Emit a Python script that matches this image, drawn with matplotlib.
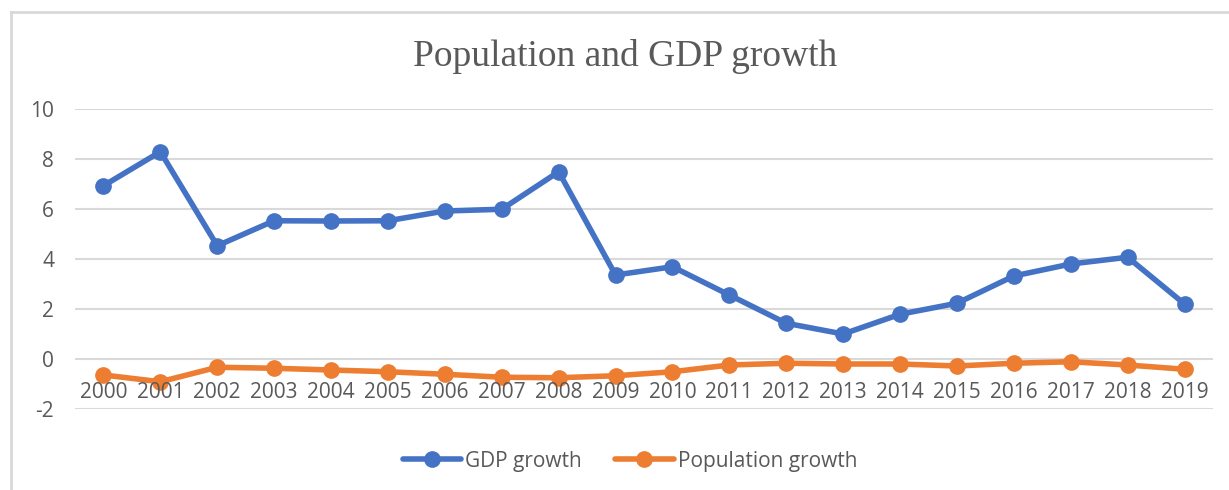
import matplotlib
matplotlib.use("Agg")
import matplotlib.pyplot as plt
from matplotlib.lines import Line2D
from matplotlib.transforms import ScaledTranslation

years = ["2000", "2001", "2002", "2003", "2004", "2005", "2006", "2007", "2008", "2009",
         "2010", "2011", "2012", "2013", "2014", "2015", "2016", "2017", "2018", "2019"]
gdp_growth = [6.93, 8.29, 4.53, 5.53, 5.52, 5.53, 5.92, 5.99, 7.49, 3.36,
              3.69, 2.56, 1.43, 1.00, 1.79, 2.23, 3.32, 3.80, 4.07, 2.20]
pop_growth = [-0.64, -0.91, -0.33, -0.37, -0.44, -0.51, -0.61, -0.73, -0.75, -0.67,
              -0.51, -0.24, -0.17, -0.20, -0.20, -0.28, -0.17, -0.11, -0.24, -0.41]
y_ticks = [-2, 0, 2, 4, 6, 8, 10]

blue = "#4472C4"
orange = "#ED7D31"
txt = "#595959"
grid = "#D9D9D9"

W, H = 1229, 490
fig = plt.figure(figsize=(W / 100, H / 100), dpi=100)
fig.patch.set_facecolor("white")

# chart border (only left/top visible in the crop)
fig.add_artist(Line2D([11 / W, 11 / W], [0, 1 - 12 / H], transform=fig.transFigure,
                      color=grid, lw=2))
fig.add_artist(Line2D([11 / W, 1], [1 - 12 / H, 1 - 12 / H], transform=fig.transFigure,
                      color=grid, lw=2))

ax = fig.add_axes([75 / W, 1 - 409 / H, (1213 - 75) / W, 300 / H])
x = list(range(len(years)))

ax.plot(x, gdp_growth, color=blue, lw=4, marker="o", ms=11, label="GDP growth",
        solid_capstyle="round", zorder=3)
ax.plot(x, pop_growth, color=orange, lw=4, marker="o", ms=11, label="Population growth",
        solid_capstyle="round", zorder=3)

ax.set_xlim(-0.5, len(years) - 0.5)
ax.set_ylim(-2, 10)
ax.set_yticks(y_ticks)
ax.set_yticklabels([str(v) for v in y_ticks])
for v in y_ticks:
    ax.axhline(v, color=grid, lw=1.5, zorder=1)

for s in ax.spines.values():
    s.set_visible(False)
ax.tick_params(axis="y", length=0, pad=15, labelsize=15, labelcolor=txt)
ax.set_xticks([])
for lbl in ax.get_yticklabels():
    lbl.set_fontfamily("Open Sans")

# year labels sit just under the zero line, like Excel's crossing axis
shift = ax.transData + ScaledTranslation(0, -23 / 100, fig.dpi_scale_trans)
for i, yr in enumerate(years):
    ax.text(i, 0, yr, ha="center", va="top", fontsize=15, color=txt,
            fontfamily="Open Sans", transform=shift)

fig.text(625 / W, 1 - 56 / H, "Population and GDP growth", ha="center", va="center",
         fontsize=27, color=txt, fontfamily="Liberation Serif")

leg = fig.legend(loc="center", bbox_to_anchor=(630 / W, 1 - 461 / H), ncol=2, frameon=False,
                 prop={"family": "Open Sans", "size": 15}, handlelength=2.8,
                 handletextpad=0.2, columnspacing=1.6)
for t in leg.get_texts():
    t.set_color(txt)

fig.savefig("out.png", dpi=100)
